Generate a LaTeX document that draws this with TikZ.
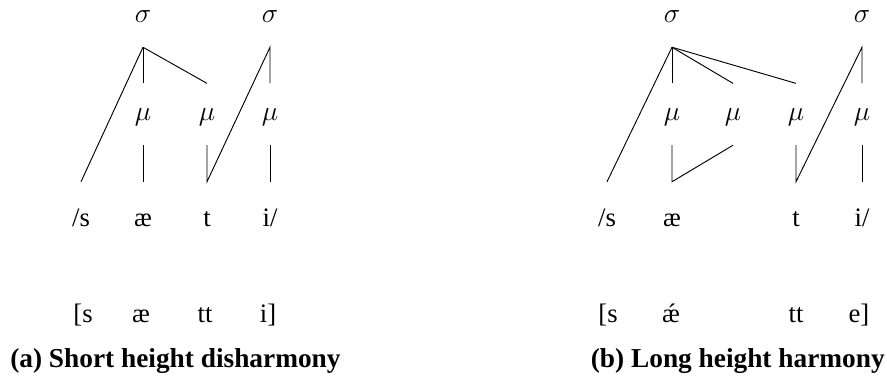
\documentclass[tikz,border=0pt]{standalone}
\usepackage{fontspec}
\setmainfont{Liberation Serif}
\usepackage{tikz}

\begin{document}
\begin{tikzpicture}[
  x=0.75pt, y=-0.75pt,
  every node/.style={font=\fontsize{20}{24}\selectfont, inner sep=0pt,
              text height=14pt, text depth=4pt},
  tier/.style={minimum height=46pt, font=\fontsize{22}{26}\selectfont},
  seg/.style={minimum height=57pt},
  outp/.style={anchor=base},
  caption/.style={font=\fontsize{20.5}{24}\selectfont\bfseries},
  assoc/.style={line width=0.7pt, black}
]
\useasboundingbox (0,0) rectangle (887,380);
% (a)
\node[tier] (a-s1) at (143,16.3) {$\sigma$};
\node[tier] (a-s2) at (270,16.3) {$\sigma$};
\node[tier] (a-m1) at (143,114.3) {$\mu$};
\node[tier] (a-m2) at (207,114.3) {$\mu$};
\node[tier] (a-m3) at (270,114.3) {$\mu$};
\node[seg]  (a-c1) at (81,220)  {/s};
\node[seg]  (a-v1) at (143,220) {æ};
\node[seg]  (a-c2) at (207,220) {t};
\node[seg]  (a-v2) at (270,220) {i/};
\draw[assoc] (a-c1.north) -- (a-s1.south);
\draw[assoc] (a-s1.south) -- (a-m1.north);
\draw[assoc] (a-s1.south) -- (a-m2.north);
\draw[assoc] (a-m1.south) -- (a-v1.north);
\draw[assoc] (a-m2.south) -- (a-c2.north) -- (a-s2.south) -- (a-m3.north);
\draw[assoc] (a-m3.south) -- (a-v2.north);
\node[outp] (a-o1) at (83,322)  {[s};
\node[outp] (a-o2) at (141,322) {æ};
\node[outp] (a-o3) at (205,322) {tt};
\node[outp] (a-o4) at (268,322) {i]};
\node[caption, anchor=base west] (a-cap) at (10,367) {(a) Short height disharmony};
% (b)
\node[tier] (b-s1) at (672,16.3) {$\sigma$};
\node[tier] (b-s2) at (862,16.3) {$\sigma$};
\node[tier] (b-m1) at (672,114.3) {$\mu$};
\node[tier] (b-m2) at (733,114.3) {$\mu$};
\node[tier] (b-m3) at (796,114.3) {$\mu$};
\node[tier] (b-m4) at (862,114.3) {$\mu$};
\node[seg]  (b-c1) at (607,220) {/s};
\node[seg]  (b-v1) at (672,220) {æ};
\node[seg]  (b-c2) at (796,220) {t};
\node[seg]  (b-v2) at (862,220) {i/};
\draw[assoc] (b-c1.north) -- (b-s1.south);
\draw[assoc] (b-s1.south) -- (b-m1.north);
\draw[assoc] (b-s1.south) -- (b-m2.north);
\draw[assoc] (b-s1.south) -- (b-m3.north);
\draw[assoc] (b-m1.south) -- (b-v1.north) -- (b-m2.south);
\draw[assoc] (b-m3.south) -- (b-c2.north) -- (b-s2.south) -- (b-m4.north);
\draw[assoc] (b-m4.south) -- (b-v2.north);
\node[outp] (b-o1) at (608,322) {[s};
\node[outp] (b-o2) at (671,322) {ǽ};
\node[outp] (b-o3) at (796,322) {tt};
\node[outp] (b-o4) at (859,322) {e]};
\node[caption, anchor=base east] (b-cap) at (885,367) {(b) Long height harmony};
\end{tikzpicture}
\end{document}
